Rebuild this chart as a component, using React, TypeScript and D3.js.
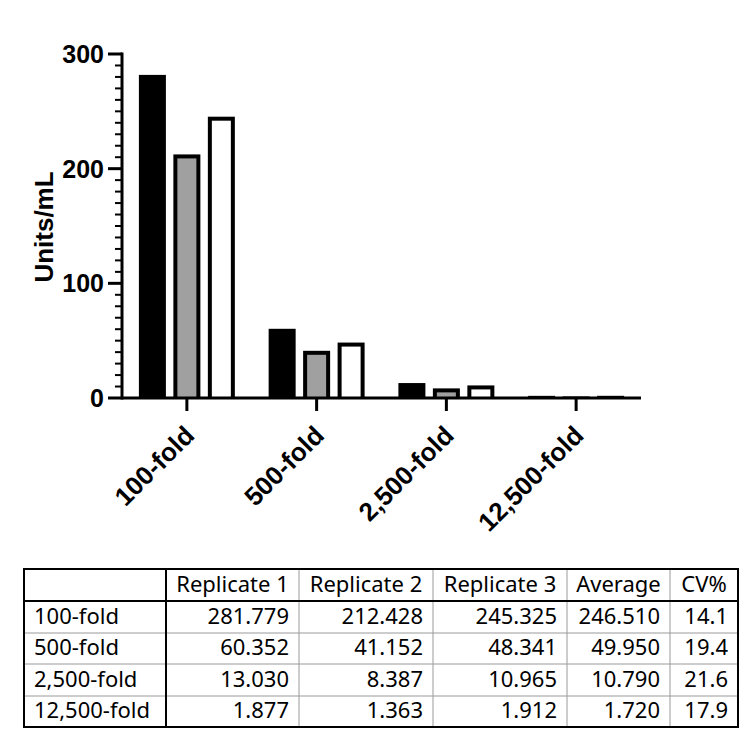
import * as d3 from "d3";

const categories = ["100-fold", "500-fold", "2,500-fold", "12,500-fold"];
const seriesNames = ["Replicate 1", "Replicate 2", "Replicate 3"];
const replicate1 = [281.779, 60.352, 13.03, 1.877];
const replicate2 = [212.428, 41.152, 8.387, 1.363];
const replicate3 = [245.325, 48.341, 10.965, 1.912];
const averages = ["246.510", "49.950", "10.790", "1.720"];
const cvPercent = ["14.1", "19.4", "21.6", "17.9"];
const yMajorTicks = [0, 100, 200, 300];
const tableHeader = ["", "Replicate 1", "Replicate 2", "Replicate 3", "Average", "CV%"];

const width = 750;
const height = 738;

// plot area
const plot = { left: 122, right: 641, top: 54, bottom: 398 };

// bar look: fill per series, black border around the non-black ones
const seriesFill = ["#000", "#a0a0a0", "#fff"];
const border = 4;

// table geometry
const colEdges = [24, 166, 299, 433, 567, 670, 738];
const rowEdges = [569, 601, 633, 664, 696, 727];

const chartFont = "'Liberation Sans', Arial, sans-serif";
const tableFont = "'Noto Sans', 'Open Sans', sans-serif";

export default function App() {
  const seriesValues = [replicate1, replicate2, replicate3];

  const y = d3.scaleLinear([0, 300], [plot.bottom, plot.top]);
  const x0 = d3.scaleBand(categories, [plot.left, plot.right]);
  const x1 = d3
    .scaleBand(seriesNames, [0, x0.bandwidth()])
    .paddingInner(0.217)
    .paddingOuter(0.49);

  const minorTicks = d3.range(0, 301, 10).filter((t) => t % 100 !== 0);

  const tableRows = categories.map((c, i) => [
    c,
    d3.format(".3f")(replicate1[i]),
    d3.format(".3f")(replicate2[i]),
    d3.format(".3f")(replicate3[i]),
    averages[i],
    cvPercent[i],
  ]);

  return (
    <svg
      width={width}
      height={height}
      style={{ position: "absolute", left: 0, top: 0, background: "#fff" }}
    >
      <rect width="100%" height="100%" fill="#fff" />

      {/* bars */}
      <g>
        {categories.map((c, i) =>
          seriesValues.map((vals, j) => {
            const bx = (x0(c) ?? 0) + (x1(seriesNames[j]) ?? 0);
            const bw = x1.bandwidth();
            const top = y(vals[i]);
            const h = plot.bottom - top;
            const hasInner = j > 0 && h > border * 2;
            return (
              <g key={`${i}-${j}`}>
                <rect x={bx} y={top} width={bw} height={Math.max(h, 1.5)} fill="#000" />
                {hasInner && (
                  <rect
                    x={bx + border}
                    y={top + border}
                    width={bw - border * 2}
                    height={h - border}
                    fill={seriesFill[j]}
                  />
                )}
              </g>
            );
          }),
        )}
      </g>

      {/* y axis */}
      <g stroke="#000" strokeWidth={3}>
        <line x1={plot.left} x2={plot.left} y1={plot.top - 1.5} y2={plot.bottom + 1.5} />
        {yMajorTicks.map((t) => (
          <line key={t} x1={plot.left - 14} x2={plot.left} y1={y(t)} y2={y(t)} />
        ))}
        {minorTicks.map((t) => (
          <line key={t} x1={plot.left - 7} x2={plot.left} y1={y(t)} y2={y(t)} strokeWidth={2} />
        ))}
      </g>
      <g fontFamily={chartFont} fontWeight="bold" fontSize={25} textAnchor="end">
        {yMajorTicks.map((t) => (
          <text key={t} x={plot.left - 18} y={y(t)} dy="0.36em">
            {t}
          </text>
        ))}
      </g>
      <text
        transform={`translate(53 ${(plot.top + plot.bottom) / 2 + 1}) rotate(-90)`}
        textAnchor="middle"
        fontFamily={chartFont}
        fontWeight="bold"
        fontSize={26}
      >
        Units/mL
      </text>

      {/* x axis */}
      <g stroke="#000" strokeWidth={3}>
        <line x1={plot.left} x2={plot.right} y1={plot.bottom} y2={plot.bottom} />
        {categories.map((c) => {
          const cx = (x0(c) ?? 0) + x0.bandwidth() / 2;
          return <line key={c} x1={cx} x2={cx} y1={plot.bottom} y2={plot.bottom + 13} />;
        })}
      </g>
      <g fontFamily={chartFont} fontWeight="bold" fontSize={26} textAnchor="end">
        {categories.map((c) => {
          const cx = (x0(c) ?? 0) + x0.bandwidth() / 2;
          return (
            <text key={c} transform={`translate(${cx + 9} ${plot.bottom + 39}) rotate(-45)`}>
              {c}
            </text>
          );
        })}
      </g>

      {/* table */}
      <g fontFamily={tableFont} fontSize={22} fill="#000">
        {/* thin grey grid */}
        <g stroke="#9a9a9a" strokeWidth={1}>
          {colEdges.slice(2, -1).map((cx) => (
            <line key={cx} x1={cx} x2={cx} y1={rowEdges[0]} y2={rowEdges[rowEdges.length - 1]} />
          ))}
          {rowEdges.slice(2, -1).map((ry) => (
            <line key={ry} x1={colEdges[0]} x2={colEdges[colEdges.length - 1]} y1={ry} y2={ry} />
          ))}
        </g>
        {/* heavy lines */}
        <g stroke="#000" strokeWidth={2} fill="none">
          <rect
            x={colEdges[0]}
            y={rowEdges[0]}
            width={colEdges[colEdges.length - 1] - colEdges[0]}
            height={rowEdges[rowEdges.length - 1] - rowEdges[0]}
          />
          <line x1={colEdges[1]} x2={colEdges[1]} y1={rowEdges[0]} y2={rowEdges[rowEdges.length - 1]} />
          <line x1={colEdges[0]} x2={colEdges[colEdges.length - 1]} y1={rowEdges[1]} y2={rowEdges[1]} />
        </g>

        {tableHeader.map((h, k) =>
          k === 0 ? null : (
            <text
              key={h}
              x={(colEdges[k] + colEdges[k + 1]) / 2}
              y={rowEdges[1] - 9}
              textAnchor="middle"
            >
              {h}
            </text>
          ),
        )}
        {tableRows.map((row, r) =>
          row.map((cell, k) => (
            <text
              key={`${r}-${k}`}
              x={k === 0 ? colEdges[0] + 10 : colEdges[k + 1] - 10}
              y={rowEdges[r + 2] - 9}
              textAnchor={k === 0 ? "start" : "end"}
            >
              {cell}
            </text>
          )),
        )}
      </g>
    </svg>
  );
}
